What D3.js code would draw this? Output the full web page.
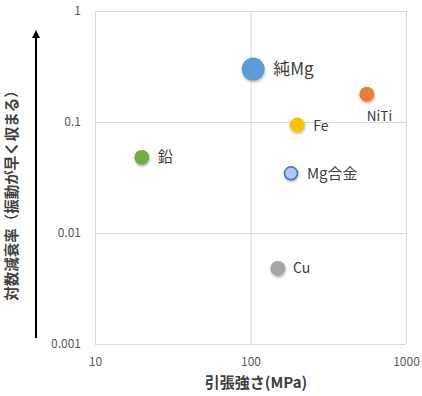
<!DOCTYPE html>
<html lang="ja">
<head>
<meta charset="utf-8">
<script src="https://d3js.org/d3.v7.min.js"></script>
<style>
  body { margin: 0; background: #fff; }
  svg text { font-family: "Noto Sans CJK JP", "Noto Sans", sans-serif; }
  .tick text { fill: #595959; font-size: 12px; }
</style>
</head>
<body>
<script>
// materials: tensile strength (MPa) vs log decrement
var names    = ["純Mg", "NiTi", "Fe", "Mg合金", "鉛", "Cu"];
var strength = [104, 560, 200, 182, 20, 150];
var decrement = [0.30, 0.178, 0.094, 0.0345, 0.048, 0.0048];
var fills    = ["#5B9BD5", "#ED7D31", "#FFC000", "#A9CBEB", "#70AD47", "#A5A5A5"];
var strokes  = ["none", "none", "none", "#4472C4", "none", "none"];
var radius   = [11.5, 7.5, 7.5, 6.5, 7.5, 7.5];
var xTicks = [10, 100, 1000];
var yTicks = [0.001, 0.01, 0.1, 1];

var W = 422, H = 396;
var pLeft = 95, pRight = 406, pTop = 11, pBottom = 344;

var svg = d3.select("body").append("svg").attr("width", W).attr("height", H);

var defs = svg.append("defs");
var f = defs.append("filter").attr("id", "sh").attr("x", "-50%").attr("y", "-50%").attr("width", "200%").attr("height", "200%");
f.append("feDropShadow").attr("dx", 0.5).attr("dy", 1.5).attr("stdDeviation", 1.2).attr("flood-color", "#000").attr("flood-opacity", 0.3);

var x = d3.scaleLog().domain([10, 1000]).range([pLeft, pRight]);
var y = d3.scaleLog().domain([0.001, 1]).range([pBottom, pTop]);

// grid
svg.append("g").selectAll("line").data(xTicks).enter().append("line")
  .attr("x1", function(d) { return x(d) + 0.5; }).attr("x2", function(d) { return x(d) + 0.5; })
  .attr("y1", pTop).attr("y2", pBottom)
  .attr("stroke", "#D9D9D9").attr("stroke-width", 1);
svg.append("g").selectAll("line").data(yTicks).enter().append("line")
  .attr("y1", function(d) { return y(d) + 0.5; }).attr("y2", function(d) { return y(d) + 0.5; })
  .attr("x1", pLeft).attr("x2", pRight)
  .attr("stroke", "#D9D9D9").attr("stroke-width", 1);

// axes (labels only)
var xa = svg.append("g").attr("transform", "translate(0," + pBottom + ")")
  .call(d3.axisBottom(x).tickValues(xTicks).tickFormat(d3.format("d")).tickSize(0).tickPadding(13));
xa.select(".domain").remove();
var ya = svg.append("g").attr("transform", "translate(" + pLeft + ",0)")
  .call(d3.axisLeft(y).tickValues(yTicks).tickFormat(function(d) { return String(d); }).tickSize(0).tickPadding(14));
ya.select(".domain").remove();

// points
svg.append("g").selectAll("circle").data(names).enter().append("circle")
  .attr("cx", function(d, i) { return x(strength[i]); })
  .attr("cy", function(d, i) { return y(decrement[i]); })
  .attr("r", function(d, i) { return radius[i]; })
  .attr("fill", function(d, i) { return fills[i]; })
  .attr("stroke", function(d, i) { return strokes[i]; })
  .attr("stroke-width", 1.5)
  .attr("filter", "url(#sh)");

// point labels
var lblDx = [20, 0, 16, 16, 16, 15];
var lblDy = [6, 27, 6, 6, 5, 5];
var lblSize = [17, 13.5, 14, 15, 15, 14];
svg.append("g").selectAll("text").data(names).enter().append("text")
  .attr("x", function(d, i) { return x(strength[i]) + lblDx[i]; })
  .attr("y", function(d, i) { return y(decrement[i]) + lblDy[i]; })
  .attr("font-size", function(d, i) { return lblSize[i]; })
  .attr("fill", "#404040")
  .text(function(d) { return d; });

// axis titles
svg.append("text")
  .attr("x", 256).attr("y", 388)
  .attr("text-anchor", "middle").attr("font-size", 15).attr("font-weight", "bold")
  .attr("fill", "#404040")
  .text("引張強さ(MPa)");

svg.append("text")
  .attr("transform", "translate(17,192) rotate(-90)")
  .attr("text-anchor", "middle").attr("font-size", 14.5).attr("font-weight", "bold")
  .attr("fill", "#404040")
  .text("対数減衰率（振動が早く収まる）");

// arrow
defs.append("marker").attr("id", "ah").attr("viewBox", "0 0 10 10").attr("refX", 5).attr("refY", 5)
  .attr("markerWidth", 4).attr("markerHeight", 4).attr("orient", "auto")
  .append("path").attr("d", "M0,0L10,5L0,10z").attr("fill", "#000");
svg.append("line")
  .attr("x1", 36).attr("x2", 36).attr("y1", 338).attr("y2", 34)
  .attr("stroke", "#000").attr("stroke-width", 2)
  .attr("marker-end", "url(#ah)");
</script>
</body>
</html>
